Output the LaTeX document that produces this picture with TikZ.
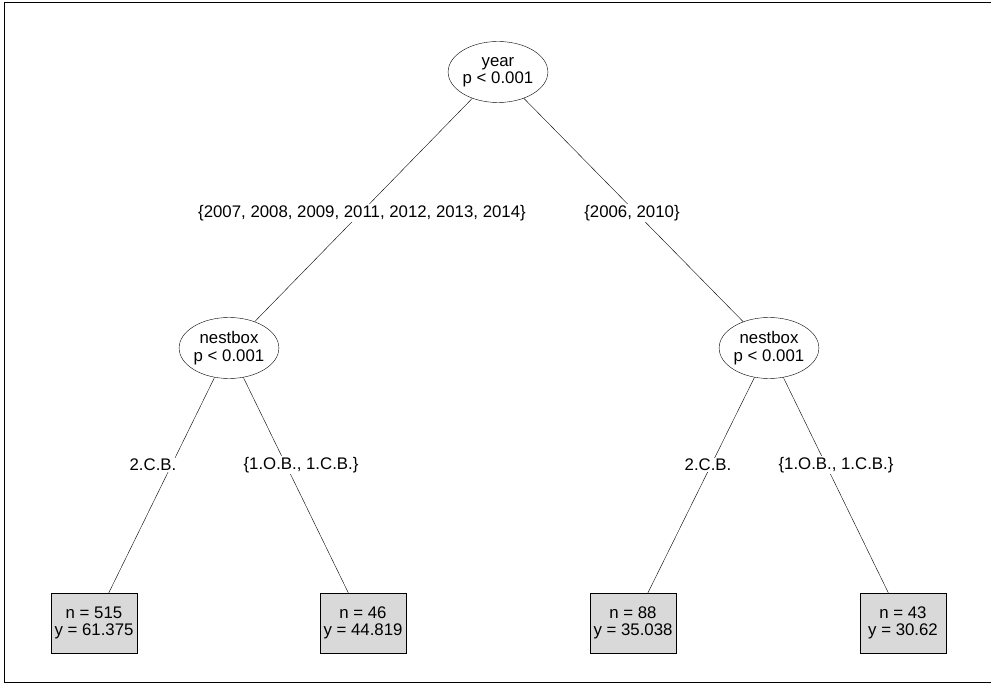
\documentclass[tikz,border=0pt]{standalone}
\usepackage{fontspec}
\setmainfont{Liberation Sans}
\usetikzlibrary{shapes.geometric}

\begin{document}
\begin{tikzpicture}[x=1pt,y=-1pt,
    inner/.style={draw,ellipse,inner sep=0pt,minimum width=90pt,minimum height=61pt,
                  align=center,font=\fontsize{16.8}{17.5}\selectfont},
    leaf/.style={draw,fill=black!15,inner sep=0pt,minimum width=86pt,minimum height=60pt,
                 align=center,font=\fontsize{16.8}{17.5}\selectfont},
    split/.style={fill=white,inner sep=1pt,font=\fontsize{16.8}{17.5}\selectfont}]
    \useasboundingbox (0,0) rectangle (991,684);
    \begin{scope}
        \clip (0,0) rectangle (991,684);
        \draw (4,2) rectangle (1000,682);
    \end{scope}

    % inner nodes
    \node[inner] (year) at (498,72) {year\\p < 0.001};
    \node[inner] (nestL) at (229,348) {nestbox\\p < 0.001};
    \node[inner] (nestR) at (769,348) {nestbox\\p < 0.001};

    % terminal nodes
    \node[leaf] (leafA) at (94,623) {n = 515\\y = 61.375};
    \node[leaf] (leafB) at (363,623) {n = 46\\y = 44.819};
    \node[leaf] (leafC) at (633,623) {n = 88\\y = 35.038};
    \node[leaf] (leafD) at (903,623) {n = 43\\y = 30.62};

    % edges
    \draw (year) -- (nestL);
    \draw (year) -- (nestR);
    \draw (nestL) -- (leafA);
    \draw (nestL) -- (leafB);
    \draw (nestR) -- (leafC);
    \draw (nestR) -- (leafD);

    % split labels
    \node[split] (sp1) at (362,213) {\{2007, 2008, 2009, 2011, 2012, 2013, 2014\}};
    \node[split] (sp2) at (632,213) {\{2006, 2010\}};
    \node[split] (sp3) at (153,465) {2.C.B.};
    \node[split] (sp4) at (301,465) {\{1.O.B., 1.C.B.\}};
    \node[split] (sp5) at (708,465) {2.C.B.};
    \node[split] (sp6) at (836,465) {\{1.O.B., 1.C.B.\}};
\end{tikzpicture}
\end{document}
